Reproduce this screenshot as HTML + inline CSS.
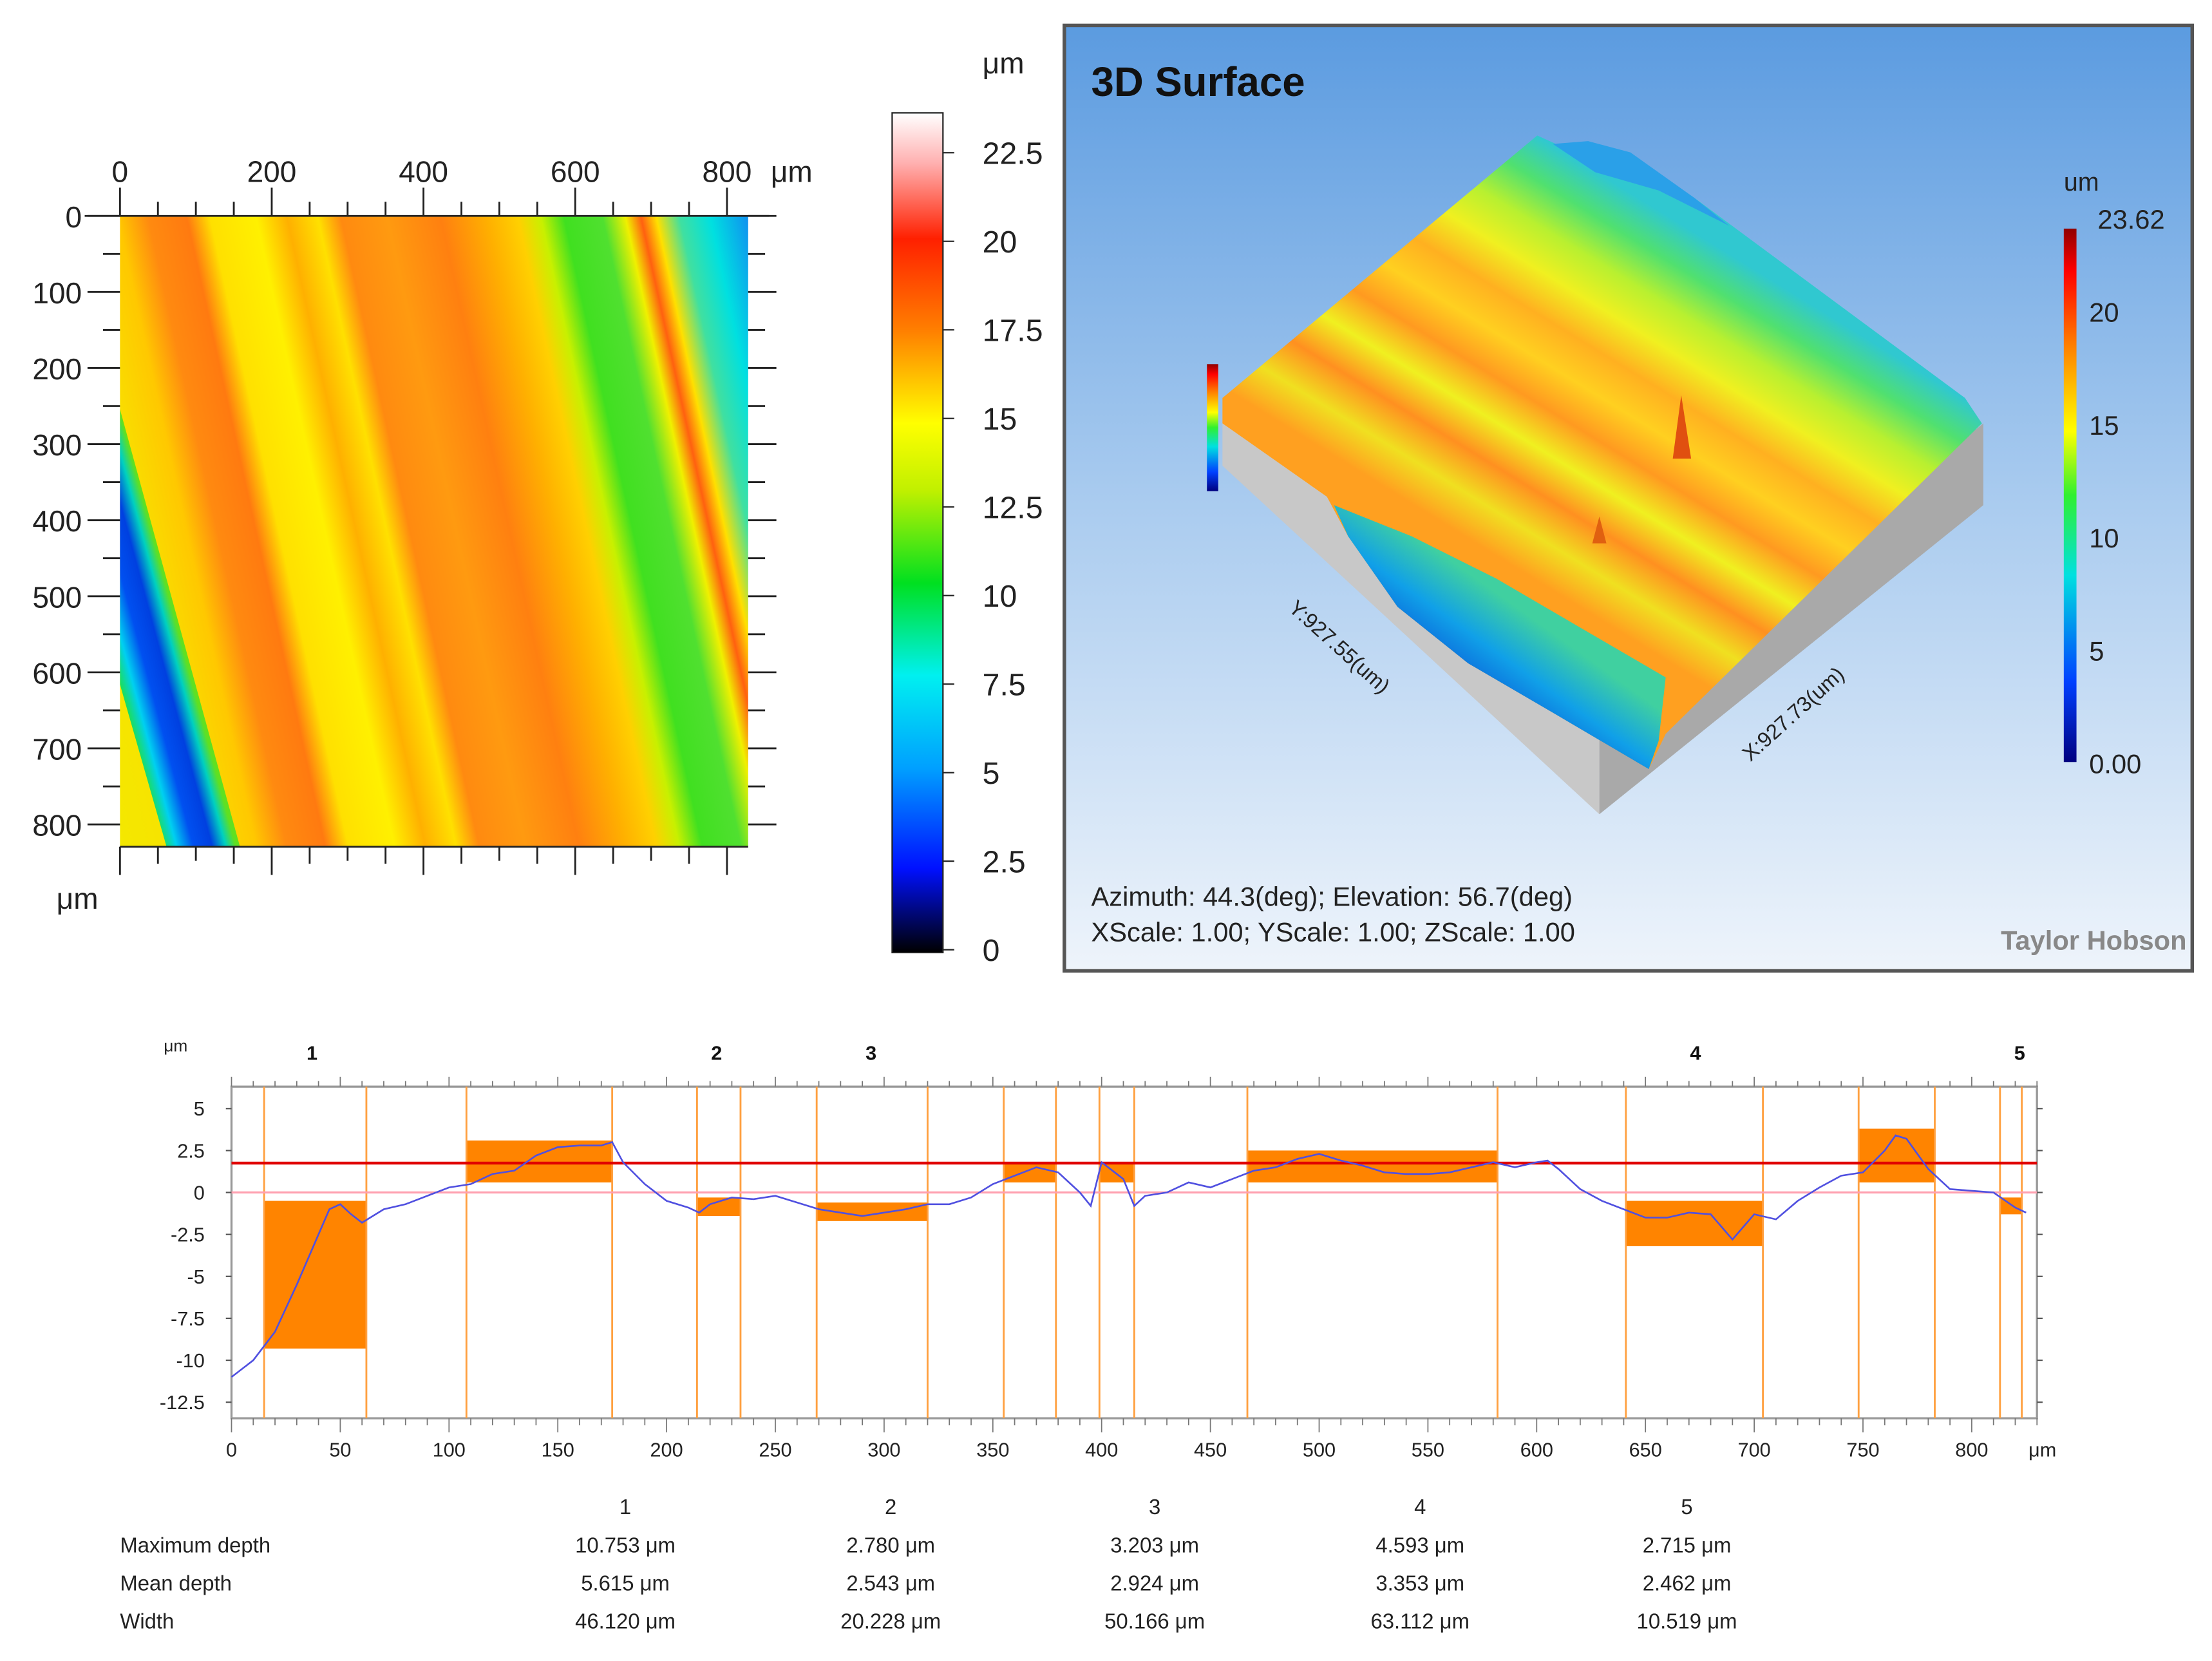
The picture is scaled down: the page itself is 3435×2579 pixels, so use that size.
<!DOCTYPE html>
<html><head><meta charset="utf-8"><style>
html,body{margin:0;padding:0;background:#fff}
svg{display:block}
text{font-family:"Liberation Sans",sans-serif}
</style></head><body>
<svg id="root" width="3435" height="2579" viewBox="0 0 1567 1177" preserveAspectRatio="none" xmlns="http://www.w3.org/2000/svg">
<defs>
<linearGradient id="hm" gradientUnits="userSpaceOnUse" x1="-15" y1="153" x2="505" y2="38.6">
<stop offset="0" stop-color="#f4e800"/>
<stop offset="0.12" stop-color="#f8e000"/>
<stop offset="0.18" stop-color="#ffc800"/>
<stop offset="0.22" stop-color="#ff8a10"/>
<stop offset="0.27" stop-color="#ff7a10"/>
<stop offset="0.3" stop-color="#ffe000"/>
<stop offset="0.36" stop-color="#fff000"/>
<stop offset="0.4" stop-color="#ffb000"/>
<stop offset="0.44" stop-color="#ffe000"/>
<stop offset="0.47" stop-color="#ff8a10"/>
<stop offset="0.53" stop-color="#ff9a10"/>
<stop offset="0.6" stop-color="#ff8010"/>
<stop offset="0.66" stop-color="#ffb000"/>
<stop offset="0.7" stop-color="#ffd000"/>
<stop offset="0.73" stop-color="#c8f000"/>
<stop offset="0.76" stop-color="#40e020"/>
<stop offset="0.81" stop-color="#50e030"/>
<stop offset="0.84" stop-color="#f0f000"/>
<stop offset="0.86" stop-color="#ff6010"/>
<stop offset="0.88" stop-color="#ffe000"/>
<stop offset="0.91" stop-color="#40e0a0"/>
<stop offset="0.95" stop-color="#00e0e0"/>
<stop offset="1" stop-color="#1090f0"/>
</linearGradient>
<linearGradient id="bs" gradientUnits="userSpaceOnUse" x1="108" y1="603" x2="164" y2="588">
<stop offset="0" stop-color="#c0f000"/>
<stop offset="0.12" stop-color="#20e040"/>
<stop offset="0.3" stop-color="#00d0f0"/>
<stop offset="0.5" stop-color="#0050f0"/>
<stop offset="0.72" stop-color="#0040e0"/>
<stop offset="0.88" stop-color="#00d0c0"/>
<stop offset="1" stop-color="#60e020"/>
</linearGradient>
<linearGradient id="cb" x1="0" y1="1" x2="0" y2="0">
<stop offset="0" stop-color="#000"/>
<stop offset="0.1" stop-color="#0010ff"/>
<stop offset="0.22" stop-color="#00a0ff"/>
<stop offset="0.33" stop-color="#00f0f0"/>
<stop offset="0.44" stop-color="#00e020"/>
<stop offset="0.55" stop-color="#c0f000"/>
<stop offset="0.63" stop-color="#ffff00"/>
<stop offset="0.74" stop-color="#ff8000"/>
<stop offset="0.85" stop-color="#ff2000"/>
<stop offset="0.94" stop-color="#ffb0b0"/>
<stop offset="1" stop-color="#ffffff"/>
</linearGradient>
<linearGradient id="bg3" x1="0" y1="0" x2="0" y2="1">
<stop offset="0" stop-color="#5b9be0"/>
<stop offset="0.5" stop-color="#a9cbef"/>
<stop offset="1" stop-color="#eef4fb"/>
</linearGradient>
<linearGradient id="cb3" x1="0" y1="1" x2="0" y2="0">
<stop offset="0" stop-color="#000080"/>
<stop offset="0.15" stop-color="#0040ff"/>
<stop offset="0.35" stop-color="#00e0e0"/>
<stop offset="0.5" stop-color="#30f030"/>
<stop offset="0.62" stop-color="#ffff00"/>
<stop offset="0.78" stop-color="#ff8000"/>
<stop offset="0.92" stop-color="#ff0000"/>
<stop offset="1" stop-color="#900000"/>
</linearGradient>
<linearGradient id="surf" gradientUnits="userSpaceOnUse" x1="1240" y1="189" x2="1099" y2="418">
<stop offset="0" stop-color="#30c8d0"/>
<stop offset="0.1" stop-color="#50e070"/>
<stop offset="0.2" stop-color="#b8f030"/>
<stop offset="0.3" stop-color="#f0f020"/>
<stop offset="0.4" stop-color="#ffb020"/>
<stop offset="0.5" stop-color="#ffd020"/>
<stop offset="0.6" stop-color="#ff9a20"/>
<stop offset="0.7" stop-color="#f0f020"/>
<stop offset="0.8" stop-color="#ff9020"/>
<stop offset="0.9" stop-color="#f0e020"/>
<stop offset="1" stop-color="#ffa020"/>
</linearGradient>
<linearGradient id="dip" gradientUnits="userSpaceOnUse" x1="1060" y1="420" x2="1010" y2="490">
<stop offset="0" stop-color="#40d0a0"/>
<stop offset="0.4" stop-color="#10a0e8"/>
<stop offset="1" stop-color="#0838d0"/>
</linearGradient>
</defs>

<!-- Left heatmap -->
<g>
<rect x="85" y="153" width="445" height="447" fill="url(#hm)"/>
<polygon points="85,290 170,600 118,600 85,485" fill="url(#bs)"/>
<g id="hmaxes" stroke="#222" stroke-width="1.3"></g>
<text x="40" y="644" font-size="21" fill="#222">μm</text>
<text x="546" y="129" font-size="21" fill="#222">μm</text>
</g>

<!-- colorbar -->
<g>
<rect x="632" y="80" width="36" height="595" fill="url(#cb)" stroke="#222" stroke-width="1"/>
<text x="696" y="52" font-size="21" fill="#222">μm</text>
<g id="cbticks"></g>
</g>

<!-- 3D panel -->
<g>
<rect x="754" y="18" width="799" height="670" fill="url(#bg3)" stroke="#555" stroke-width="2.5"/>
<text x="773" y="68" font-size="29" font-weight="bold" fill="#111">3D Surface</text>
<polygon points="866,288 1133,520 1133,577 866,330" fill="#c8c8c8"/>
<polygon points="1133,520 1405,300 1405,358 1133,577" fill="#a9a9a9"/>
<polygon points="866,282 1089,96 1120,110 1150,108 1200,140 1392,282 1404,300 1180,520 1168,545 1100,505 1040,470 990,430 955,380 940,352 866,300" fill="url(#surf)"/>
<polygon points="1100,102 1125,100 1155,108 1200,140 1225,160 1175,135 1130,122" fill="#2aa0e8"/>
<polygon points="945,358 1000,380 1060,410 1120,445 1180,480 1175,525 1168,545 1100,505 1040,470 990,430 955,380" fill="url(#dip)"/>
<polygon points="1185,325 1191,280 1198,325" fill="#e05010"/>
<polygon points="1128,385 1133,366 1138,385" fill="#e06010"/>
<rect x="855" y="258" width="8" height="90" fill="url(#cb3)"/>
<text x="0" y="0" font-size="15" fill="#222" transform="translate(912,432) rotate(42)">Y:927.55(um)</text>
<text x="0" y="0" font-size="15" fill="#222" transform="translate(1240,540) rotate(-42)">X:927.73(um)</text>
<rect x="1462" y="162" width="9" height="378" fill="url(#cb3)"/>
<text x="1462" y="135" font-size="18" fill="#222">um</text>
<g id="cb3t"></g>
<text x="773" y="642" font-size="19" fill="#222">Azimuth: 44.3(deg); Elevation: 56.7(deg)</text>
<text x="773" y="667" font-size="19" fill="#222">XScale: 1.00; YScale: 1.00; ZScale: 1.00</text>
<text x="1549" y="673" font-size="19" font-weight="bold" fill="#888" text-anchor="end">Taylor Hobson</text>
</g>

<!-- Profile -->
<g>
<text x="116" y="745" font-size="12" fill="#222">μm</text>
<g id="prof"></g>
</g>

<!-- Table -->
<g id="tbl" font-size="15" fill="#222"></g>
</svg>
<script>
const NS='http://www.w3.org/2000/svg';
function mk(tag,attrs,parent,txt){const e=document.createElementNS(NS,tag);for(const k in attrs)e.setAttribute(k,attrs[k]);if(txt!==undefined)e.textContent=txt;parent.appendChild(e);return e;}

// ---- heatmap axes data
const hmTicks=[0,200,400,600,800];
const hmMinor=[0,100,200,300,400,500,600,700,800];
function hx(v){return 85+v*0.5375;}
function hy(v){return 153+v*0.539;}
const ha=document.getElementById('hmaxes');
mk('line',{x1:60,y1:153,x2:545,y2:153},ha);
mk('line',{x1:85,y1:600,x2:530,y2:600},ha);
hmMinor.forEach(v=>{
  mk('line',{x1:hx(v),y1:153,x2:hx(v),y2:v%200==0?133:143},ha);
  mk('line',{x1:hx(v),y1:600,x2:hx(v),y2:v%200==0?620:610},ha);
  if(v>0){mk('line',{x1:hx(v-50),y1:600,x2:hx(v-50),y2:612},ha);mk('line',{x1:hx(v-50),y1:153,x2:hx(v-50),y2:143},ha);}
  mk('line',{x1:62,y1:hy(v),x2:85,y2:hy(v)},ha);
  mk('line',{x1:530,y1:hy(v),x2:550,y2:hy(v)},ha);
  if(v<800){mk('line',{x1:73,y1:hy(v+50),x2:85,y2:hy(v+50)},ha);mk('line',{x1:530,y1:hy(v+50),x2:542,y2:hy(v+50)},ha);}
  const t=mk('text',{x:58,y:hy(v)+8,'font-size':21,'text-anchor':'end',fill:'#222',stroke:'none'},ha,String(v));
  
  
});
hmTicks.forEach(v=>{
  const t=mk('text',{x:hx(v),y:129,'font-size':21,'text-anchor':'middle',fill:'#222',stroke:'none'},ha,String(v));
  
  
});

// colorbar ticks
const cbTicks=[0,2.5,5,7.5,10,12.5,15,17.5,20,22.5];
const cbg=document.getElementById('cbticks');
cbTicks.forEach(v=>{
  const y=673-v*25.1;
  mk('line',{x1:668,y1:y,x2:676,y2:y,stroke:'#222'},cbg);
  const t=mk('text',{x:696,y:y+8,'font-size':22,fill:'#222'},cbg,String(v));
  
  
});
const cb3Ticks=['0.00','5','10','15','20','23.62'];
const cb3Vals=[0,5,10,15,20,23.62];
const c3=document.getElementById('cb3t');
cb3Vals.forEach((v,i)=>{
  const y=540-v*16.0;
  const t=mk('text',{x:i==5?1486:1480,y:y+(i==5?0:8),'font-size':19,fill:'#222'},c3,cb3Ticks[i]);
  
  
});

// ---- profile data
const profX=[0,10,20,30,40,45,50,55,60,70,80,90,100,110,120,130,140,150,160,170,175,180,190,200,210,215,220,230,240,250,260,270,280,290,300,310,320,330,340,350,360,370,380,390,395,400,405,410,415,420,430,440,450,460,470,480,490,500,510,520,530,540,550,560,570,580,590,600,605,610,620,630,640,650,660,670,680,690,700,710,720,730,740,750,760,765,770,780,790,800,810,820,825];
const profY=[-11,-10,-8.3,-5.5,-2.5,-1,-0.7,-1.3,-1.8,-1,-0.7,-0.2,0.3,0.5,1.1,1.3,2.2,2.7,2.8,2.8,3,1.8,0.5,-0.5,-0.9,-1.2,-0.7,-0.3,-0.4,-0.2,-0.6,-1,-1.2,-1.4,-1.2,-1,-0.7,-0.7,-0.3,0.5,1,1.5,1.2,0,-0.8,1.8,1.3,0.8,-0.8,-0.2,0,0.6,0.3,0.8,1.3,1.5,2,2.3,1.9,1.6,1.2,1.1,1.1,1.2,1.5,1.8,1.5,1.8,1.9,1.4,0.2,-0.5,-1,-1.5,-1.5,-1.2,-1.3,-2.8,-1.3,-1.6,-0.5,0.3,1,1.2,2.5,3.4,3.2,1.4,0.2,0.1,0,-0.9,-1.2];
const boxStart=[15,108,214,269,355,399,467,641,748,813];
const boxEnd=[62,175,234,320,379,415,582,704,783,823];
const boxTop=[-0.5,3.1,-0.3,-0.6,1.7,1.7,2.5,-0.5,3.8,-0.3];
const boxBottom=[-9.3,0.6,-1.4,-1.7,0.6,0.6,0.6,-3.2,0.6,-1.3];
const yTicks=[5,2.5,0,-2.5,-5,-7.5,-10,-12.5];
const xTicks=[0,50,100,150,200,250,300,350,400,450,500,550,600,650,700,750,800];
const zoneLabels=['1','2','3','4','5'];
const zonePos=[37,223,294,673,822];
const refLine=1.75;
function px(v){return 164+v*1.541;}
function py(v){return 845-v*11.89;}
const P=document.getElementById('prof');
mk('rect',{x:164,y:770,width:1279,height:235,fill:'#fff',stroke:'#999','stroke-width':1.5},P);
for(let v=0;v<=830;v+=10){
  const big=v%50==0;
  mk('line',{x1:px(v),y1:770,x2:px(v),y2:big?763:766,stroke:'#777','stroke-width':0.8},P);
  mk('line',{x1:px(v),y1:1005,x2:px(v),y2:big?1015:1010,stroke:'#777','stroke-width':0.8},P);
}
xTicks.forEach(v=>{
  const t=mk('text',{x:px(v),y:1032,'font-size':14,'text-anchor':'middle',fill:'#222'},P,String(v));
  
  
});
mk('text',{x:1437,y:1032,'font-size':14,fill:'#222'},P,'μm');
yTicks.forEach(v=>{
  mk('line',{x1:160,y1:py(v),x2:164,y2:py(v),stroke:'#555'},P);
  mk('line',{x1:1443,y1:py(v),x2:1447,y2:py(v),stroke:'#555'},P);
  const t=mk('text',{x:145,y:py(v)+5,'font-size':14,'text-anchor':'end',fill:'#222'},P,String(v));
  
  
});
boxStart.forEach((s,i)=>{
  const r=mk('rect',{x:px(s),y:py(boxTop[i]),width:px(boxEnd[i])-px(s),height:py(boxBottom[i])-py(boxTop[i]),fill:'#ff8400'},P);
  
  
  [s,boxEnd[i]].forEach(x=>mk('line',{x1:px(x),y1:770,x2:px(x),y2:1005,stroke:'#ffa040','stroke-width':1.3},P));
});
const rl=mk('line',{x1:164,y1:py(refLine),x2:1443,y2:py(refLine),stroke:'#e00000','stroke-width':2},P);


const zl=mk('line',{x1:164,y1:py(0),x2:1443,y2:py(0),stroke:'#ffa0b0','stroke-width':1.5},P);


const pl=mk('polyline',{points:profX.map((x,i)=>px(x)+','+py(profY[i])).join(' '),fill:'none',stroke:'#5050e0','stroke-width':1.2},P);


zoneLabels.forEach((l,i)=>{
  const t=mk('text',{x:px(zonePos[i]),y:751,'font-size':14,'font-weight':'bold','text-anchor':'middle',fill:'#111'},P,l);
  
  
});

// ---- table
const colHeads=['1','2','3','4','5'];
const colX=[443,631,818,1006,1195];
const rowNames=['Maximum depth','Mean depth','Width'];
const maxDepth=['10.753 μm','2.780 μm','3.203 μm','4.593 μm','2.715 μm'];
const meanDepth=['5.615 μm','2.543 μm','2.924 μm','3.353 μm','2.462 μm'];
const widths=['46.120 μm','20.228 μm','50.166 μm','63.112 μm','10.519 μm'];
const rows=[maxDepth,meanDepth,widths];
const rowY=[1100,1127,1154];
const T=document.getElementById('tbl');
colHeads.forEach((h,i)=>{const t=mk('text',{x:colX[i],y:1073,'text-anchor':'middle'},T,h);});
rowNames.forEach((n,r)=>{
  const t=mk('text',{x:85,y:rowY[r]},T,n);
  
  
  rows[r].forEach((v,i)=>{const c=mk('text',{x:colX[i],y:rowY[r],'text-anchor':'middle'},T,v);});
});
</script>
</body></html>
